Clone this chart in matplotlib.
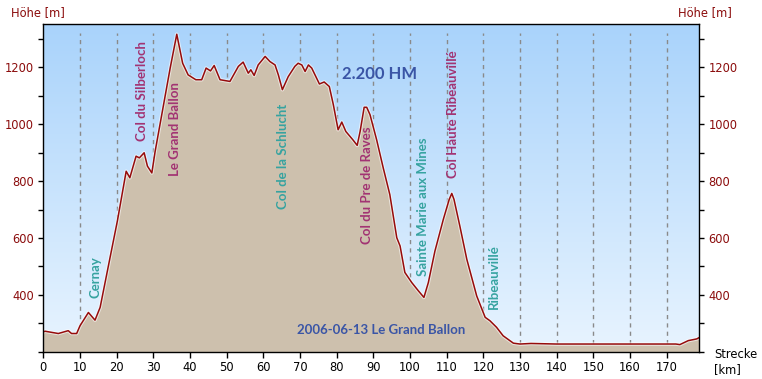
import numpy as np
import matplotlib.pyplot as plt
from matplotlib.ticker import MultipleLocator

# distance [km] and elevation [m]
km = [0, 0.5, 4.1, 6.8, 7.7, 9.1, 10.0, 12.3, 14.1, 15.5, 18.2, 20.2, 22.6, 23.6,
      25.3, 26.2, 27.5, 28.4, 29.6, 30.5, 34.6, 36.4, 38.0, 39.5, 41.6, 43.2,
      44.4, 45.6, 46.6, 48.2, 50.0, 50.9, 53.2, 54.5, 55.9, 56.6, 57.5, 58.6,
      60.5, 61.8, 63.2, 64.1, 65.2, 66.8, 68.6, 69.5, 70.5, 71.4, 72.3, 73.2,
      75.3, 76.6, 78.0, 79.1, 80.4, 81.4, 82.5, 84.4, 85.6, 86.4, 87.5, 88.2,
      89.1, 90.9, 92.7, 94.5, 96.4, 97.3, 98.6, 100.5, 102.3, 103.8, 105.0,
      106.8, 109.1, 110.7, 111.4, 112.0, 113.6, 115.5, 118.2, 120.5, 121.8,
      123.6, 125.4, 128.2, 130.0, 133.0, 140.0, 150.0, 160.0, 170.0, 172.5,
      173.6, 175.9, 178.2, 178.9]
elev = [270, 272, 264, 274, 264, 264, 291, 338, 311, 356, 531, 660, 835, 812,
        888, 882, 900, 853, 829, 905, 1198, 1317, 1215, 1174, 1157, 1157,
        1198, 1188, 1207, 1157, 1153, 1151, 1204, 1219, 1180, 1192, 1172, 1209,
        1239, 1221, 1209, 1174, 1122, 1168, 1204, 1215, 1209, 1186, 1209, 1198,
        1142, 1149, 1133, 1069, 981, 1008, 975, 946, 926, 975, 1060, 1060,
        1034, 946, 847, 753, 601, 572, 479, 443, 414, 391, 443,
        554, 666, 736, 757, 736, 642, 525, 396, 321, 309,
        286, 256, 230, 227, 229, 227, 227, 227, 227, 227,
        225, 239, 245, 250]

# waypoint labels: (name, km, elevation of text bottom, colour kind)
places = ["Cernay", "Col du Silberloch", "Le Grand Ballon", "Col de la Schlucht",
          "Col du Pre de Raves", "Sainte Marie aux Mines", "Col Haute Ribeauvillé",
          "Ribeauvillé"]
place_km = [14.1, 26.8, 35.9, 65.3, 88.2, 103.6, 111.6, 122.9]
place_base = [388, 940, 818, 701, 578, 467, 812, 350]
place_col = ["teal", "mag", "mag", "teal", "mag", "teal", "mag", "teal"]

teal = "#36a3a0"
mag = "#a23373"
red = "#8b0c0c"
blue = "#3a55a6"

fig = plt.figure(figsize=(7.62, 3.79), dpi=100)
ax = fig.add_axes([43.3 / 762, 1 - 351.7 / 379, (699.3 - 43.3) / 762, (351.7 - 24.3) / 379])

ymin, ymax = 200, 1352
xmax = 178.9
ax.set_xlim(0, xmax)
ax.set_ylim(ymin, ymax)

# sky gradient background
grad = np.linspace(0, 1, 256).reshape(-1, 1)
top = np.array([169, 211, 251]) / 255
bot = np.array([232, 244, 255]) / 255
img = top + (bot - top) * grad[:, :, None]
ax.imshow(img, extent=[0, xmax, ymin, ymax], aspect="auto", zorder=0)

for x in range(10, 180, 10):
    ax.axvline(x, ymin=0, ymax=0.973, color="#8a8a8a", lw=1, ls=(0, (3, 3)), zorder=1)

ax.fill_between(km, elev, ymin, color="#cdc0ad", zorder=2, lw=0)
ax.plot(km, elev, color="white", lw=2.6, alpha=0.6, zorder=3)
ax.plot(km, elev, color="#960b0b", lw=1.1, zorder=4)

for name, x, y, c in zip(places, place_km, place_base, place_col):
    ax.text(x, y, name, rotation=90, ha="center", va="bottom", family="Lato",
            weight="bold", fontsize=9.5, color=teal if c == "teal" else mag, zorder=5)

ax.text(91.8, 1178, "2.200 HM", ha="center", va="center", family="Lato",
        weight="bold", fontsize=12, color=blue, zorder=5)
ax.text(92.2, 276, "2006-06-13 Le Grand Ballon", ha="center", va="center",
        family="Lato", weight="bold", fontsize=9.5, color=blue, zorder=5)

ax.xaxis.set_major_locator(MultipleLocator(10))
ax.yaxis.set_major_locator(MultipleLocator(200))
ax.yaxis.set_minor_locator(MultipleLocator(100))
ax.set_yticks([400, 600, 800, 1000, 1200])
ax.tick_params(axis="y", which="both", direction="out", length=3.5, width=1,
               left=True, right=True, labelleft=True, labelright=True,
               labelsize=8.3, labelcolor=red, pad=3)
ax.tick_params(axis="x", direction="out", length=4, width=1, labelsize=8.3, pad=3)
for s in ax.spines.values():
    s.set_linewidth(1)
    s.set_color("black")
    s.set_zorder(6)

fig.text(38 / 762, 1 - 13 / 379, "Höhe [m]", ha="center", va="center",
         fontsize=8.3, color=red)
fig.text(705 / 762, 1 - 13 / 379, "Höhe [m]", ha="center", va="center",
         fontsize=8.3, color=red)
fig.text(714 / 762, 1 - 355 / 379, "Strecke", ha="left", va="center", fontsize=8.3)
fig.text(714 / 762, 1 - 370 / 379, "[km]", ha="left", va="center", fontsize=8.3)

fig.savefig("out.png", dpi=100)
